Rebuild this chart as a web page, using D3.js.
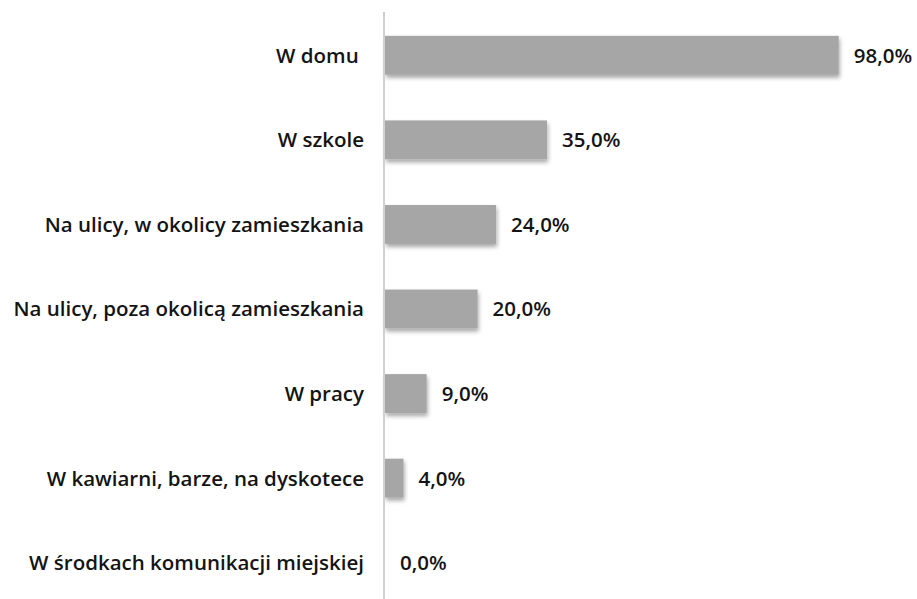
<!DOCTYPE html>
<html><head><meta charset="utf-8">
<script src="https://cdn.jsdelivr.net/npm/d3@7"></script>
<style>body{margin:0;background:#fff}svg{display:block}</style>
</head><body>
<script>
const categories = ["W domu ", "W szkole", "Na ulicy, w okolicy zamieszkania", "Na ulicy, poza okolicą zamieszkania", "W pracy", "W kawiarni, barze, na dyskotece", "W środkach komunikacji miejskiej"];
const values = [98.0, 35.0, 24.0, 20.0, 9.0, 4.0, 0.0];
const valueLabels = ["98,0%", "35,0%", "24,0%", "20,0%", "9,0%", "4,0%", "0,0%"];

const W = 917, H = 599;
const svg = d3.select("body").append("svg").attr("width", W).attr("height", H);
const defs = svg.append("defs");
const f = defs.append("filter").attr("id","sh").attr("x","-10%").attr("y","-20%").attr("width","130%").attr("height","160%");
f.append("feDropShadow").attr("dx",1).attr("dy",3).attr("stdDeviation",2).attr("flood-color","#000").attr("flood-opacity",0.35);

const x0 = 385;
const x = d3.scaleLinear().domain([0, 100]).range([x0, x0 + 463]);
const y = d3.scaleBand().domain(categories).range([13, 605]).paddingInner(0.54).paddingOuter(0.27);

svg.append("g").selectAll("rect").data(values).join("rect")
  .attr("x", x(0)).attr("y", (d,i)=>y(categories[i]))
  .attr("width", d=>x(d)-x(0)).attr("height", y.bandwidth())
  .attr("fill", "#a6a6a6").attr("filter", d=>d>0?"url(#sh)":null);

svg.append("line").attr("x1", x0-1).attr("x2", x0-1).attr("y1", 12).attr("y2", H)
  .attr("stroke", "#d0d0d0").attr("stroke-width", 2);

const font = "'Open Sans', sans-serif";
const cat = svg.append("g").selectAll("text").data(categories).join("text")
  .attr("x", 364).attr("y", d=>y(d)+y.bandwidth()/2).attr("dy","0.36em")
  .attr("text-anchor","end").attr("font-family",font).attr("font-weight",600)
  .attr("font-size",20.5).attr("fill","#141414").style("white-space","pre").text(d=>d);

svg.append("g").selectAll("text").data(values).join("text")
  .attr("x", d=>x(d)+15).attr("y", (d,i)=>y(categories[i])+y.bandwidth()/2).attr("dy","0.36em")
  .attr("font-family",font).attr("font-weight",600)
  .attr("font-size",20.5).attr("fill","#141414").text((d,i)=>valueLabels[i]);
</script>
</body></html>
